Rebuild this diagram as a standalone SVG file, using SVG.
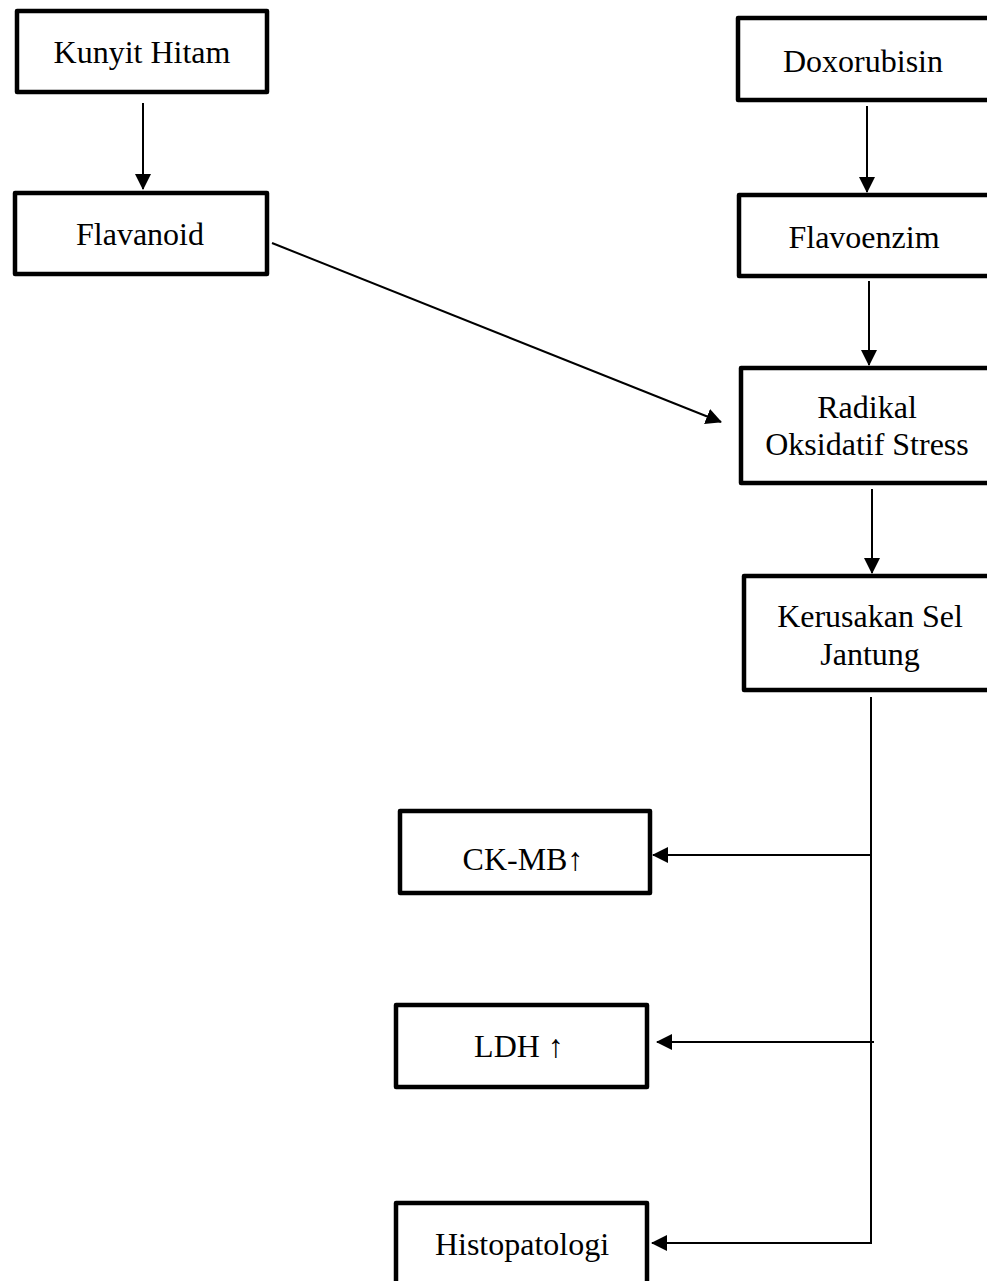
<svg xmlns="http://www.w3.org/2000/svg" width="987" height="1281" viewBox="0 0 987 1281">
<style>
.box{fill:#fff;stroke:#000;stroke-width:4.5;stroke-linejoin:round}
.t{font-family:"Liberation Serif","Times New Roman",serif;font-size:32px;fill:#000;text-anchor:middle}
.c{fill:none;stroke:#000;stroke-width:2}
</style>
<defs>
<marker id="ah" viewBox="0 0 16 16" refX="15" refY="8" markerWidth="16" markerHeight="16" markerUnits="userSpaceOnUse" orient="auto">
<path d="M0,0 L16,8 L0,16 z" fill="#000"/>
</marker>
</defs>
<rect width="987" height="1281" fill="#fff"/>
<g id="connectors">
<line class="c" x1="143" y1="103" x2="143" y2="189" marker-end="url(#ah)"/>
<line class="c" x1="867" y1="106" x2="867" y2="192" marker-end="url(#ah)"/>
<line class="c" x1="869" y1="281" x2="869" y2="365" marker-end="url(#ah)"/>
<line class="c" x1="272" y1="243" x2="721" y2="422" marker-end="url(#ah)"/>
<line class="c" x1="872" y1="489" x2="872" y2="573" marker-end="url(#ah)"/>
<path class="c" d="M871,697 L871,1243 L652,1243" marker-end="url(#ah)"/>
<line class="c" x1="871" y1="855" x2="653" y2="855" marker-end="url(#ah)"/>
<line class="c" x1="874" y1="1042" x2="657" y2="1042" marker-end="url(#ah)"/>
</g>
<g id="kunyit">
<rect class="box" x="17" y="11" width="250" height="81"/>
<text class="t" x="142" y="63">Kunyit Hitam</text>
</g>
<g id="flavanoid">
<rect class="box" x="15" y="193" width="252" height="81"/>
<text class="t" x="140" y="245">Flavanoid</text>
</g>
<g id="doxorubisin">
<rect class="box" x="738" y="18" width="260" height="82"/>
<text class="t" x="863" y="72">Doxorubisin</text>
</g>
<g id="flavoenzim">
<rect class="box" x="739" y="195" width="260" height="81"/>
<text class="t" x="864" y="248">Flavoenzim</text>
</g>
<g id="radikal">
<rect class="box" x="741" y="368" width="260" height="115"/>
<text class="t" x="867" y="418">Radikal</text>
<text class="t" x="867" y="455">Oksidatif Stress</text>
</g>
<g id="kerusakan">
<rect class="box" x="744" y="576" width="260" height="114"/>
<text class="t" x="870" y="627">Kerusakan Sel</text>
<text class="t" x="870" y="665">Jantung</text>
</g>
<g id="ckmb">
<rect class="box" x="400" y="811" width="250" height="82"/>
<text class="t" x="523" y="870">CK-MB↑</text>
</g>
<g id="ldh">
<rect class="box" x="396" y="1005" width="251" height="82"/>
<text class="t" x="519" y="1057">LDH ↑</text>
</g>
<g id="histopatologi">
<rect class="box" x="396" y="1203" width="251" height="100"/>
<text class="t" x="522" y="1255">Histopatologi</text>
</g>
</svg>
